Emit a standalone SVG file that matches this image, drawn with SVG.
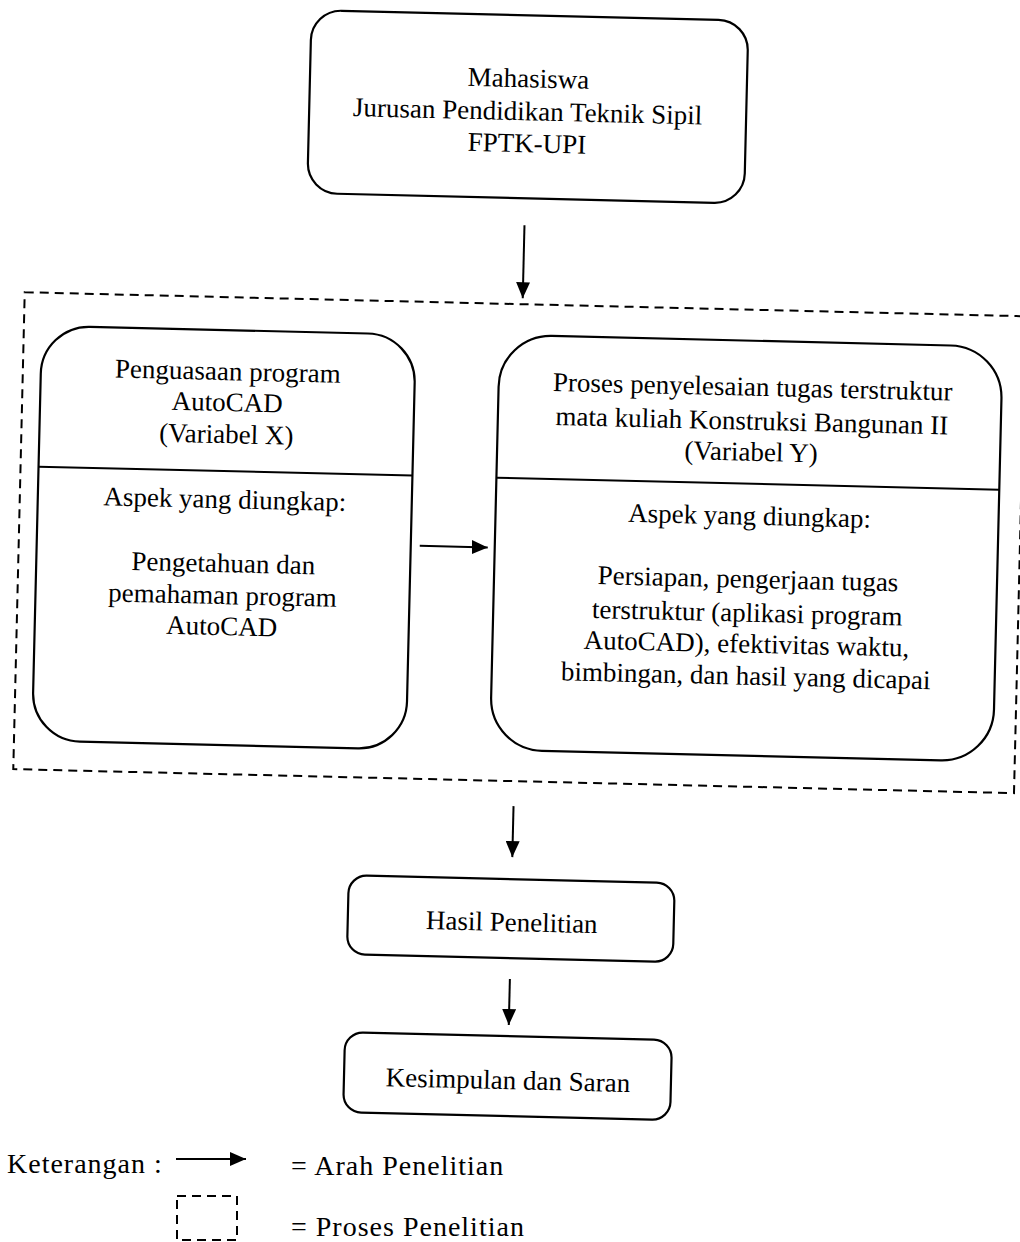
<svg xmlns="http://www.w3.org/2000/svg" width="1020" height="1242" viewBox="0 0 1020 1242">
<style>
.box{fill:none;stroke:#000;stroke-width:2.2}
.dash{fill:none;stroke:#000;stroke-width:2;stroke-dasharray:9 6}
.line{stroke:#000;stroke-width:2;fill:none}
.conn{stroke:#000;stroke-width:2;fill:none;marker-end:url(#ah)}
text{font-family:"Liberation Serif","Times New Roman",serif;font-size:27px;fill:#000}
.c{text-anchor:middle}
.lg{font-size:28px;letter-spacing:1px}
</style>
<defs>
<marker id="ah" markerUnits="userSpaceOnUse" markerWidth="16" markerHeight="14" refX="16" refY="7" orient="auto">
<path d="M0,0 L16,7 L0,14 Z" fill="#000"/>
</marker>
</defs>
<rect width="1020" height="1242" fill="#fff"/>
<g transform="rotate(1.375 510 620)">
<g id="proses-penelitian">
<rect class="dash" x="17" y="304" width="1001" height="477"/>
</g>
<g id="mahasiswa">
<rect class="box" x="297" y="15" width="437" height="183" rx="30"/>
<text class="c" x="515.5" y="87">Mahasiswa</text>
<text class="c" x="515.5" y="120">Jurusan Pendidikan Teknik Sipil</text>
<text class="c" x="515.5" y="152">FPTK-UPI</text>
</g>
<g id="variabel-x">
<rect class="box" x="35" y="337" width="374" height="415" rx="48"/>
<line class="line" x1="35" y1="478" x2="409" y2="478"/>
<text class="c" x="222" y="387">Penguasaan program</text>
<text class="c" x="222" y="418">AutoCAD</text>
<text class="c" x="222" y="450">(Variabel X)</text>
<text class="c" x="222" y="515">Aspek yang diungkap:</text>
<text class="c" x="222" y="579">Pengetahuan dan</text>
<text class="c" x="222" y="611">pemahaman program</text>
<text class="c" x="222" y="642">AutoCAD</text>
</g>
<g id="variabel-y">
<rect class="box" x="493" y="335" width="503" height="415" rx="52"/>
<line class="line" x1="493" y1="478" x2="996" y2="478"/>
<text class="c" x="747" y="390">Proses penyelesaian tugas terstruktur</text>
<text class="c" x="747" y="424">mata kuliah Konstruksi Bangunan II</text>
<text class="c" x="747" y="455">(Variabel Y)</text>
<text class="c" x="747" y="519">Aspek yang diungkap:</text>
<text class="c" x="747" y="582">Persiapan, pengerjaan tugas</text>
<text class="c" x="747" y="616">terstruktur (aplikasi program</text>
<text class="c" x="747" y="647">AutoCAD), efektivitas waktu,</text>
<text class="c" x="747" y="679">bimbingan, dan hasil yang dicapai</text>
</g>
<g id="hasil-penelitian">
<rect class="box" x="355" y="879" width="326" height="79" rx="18"/>
<text class="c" x="519" y="931">Hasil Penelitian</text>
</g>
<g id="kesimpulan">
<rect class="box" x="355" y="1036" width="327" height="80" rx="18"/>
<text class="c" x="519" y="1089">Kesimpulan dan Saran</text>
</g>
<g id="connectors">
<line class="conn" x1="515" y1="225" x2="515" y2="298"/>
<line class="conn" x1="418" y1="548" x2="486" y2="548"/>
<line class="conn" x1="518" y1="806" x2="518" y2="857"/>
<line class="conn" x1="518.5" y1="979" x2="518.5" y2="1025"/>
</g>
</g>
<g id="legend">
<text class="lg" x="7" y="1173">Keterangan :</text>
<line class="conn" x1="176" y1="1159" x2="246" y2="1159"/>
<text class="lg" x="291" y="1175">= Arah Penelitian</text>
<rect class="dash" x="177" y="1196" width="60" height="44"/>
<text class="lg" x="291" y="1236">= Proses Penelitian</text>
</g>
</svg>
